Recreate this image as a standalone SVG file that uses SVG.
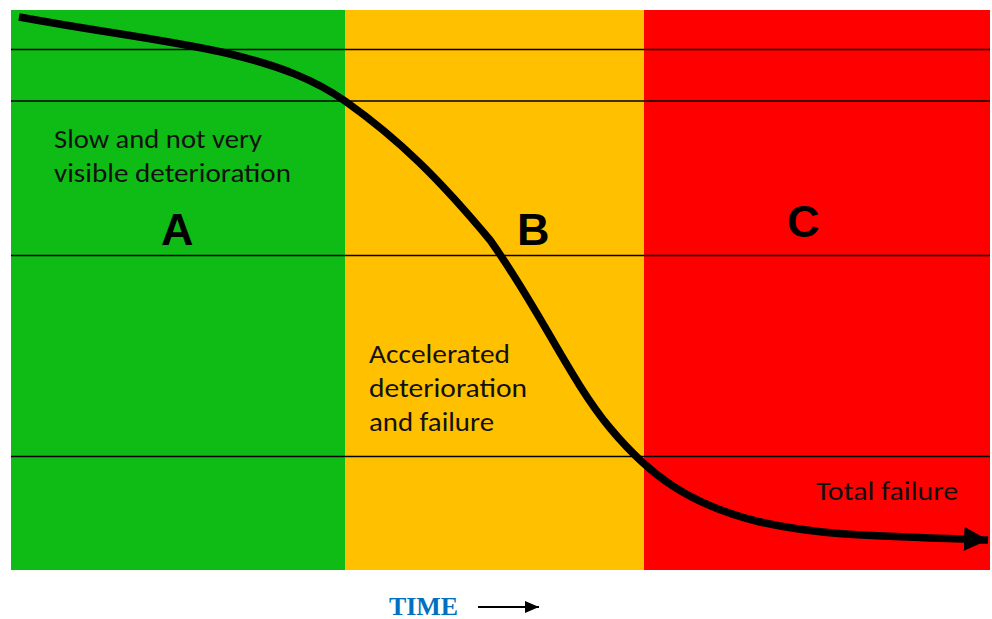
<svg xmlns="http://www.w3.org/2000/svg" width="992" height="619" viewBox="0 0 992 619">
<style>
.lbl{font-family:Carlito,"Liberation Sans","Open Sans",sans-serif;font-size:27px;fill:#111}
.big{font-family:"Liberation Sans",Arial,sans-serif;font-weight:bold;font-size:45px;fill:#000}
.hl{stroke:#000;stroke-width:1.5}
</style>
<defs>
<marker id="ah" markerUnits="userSpaceOnUse" markerWidth="26" markerHeight="26" refX="24" refY="12" orient="auto">
<path d="M0,0 L24,12 L0,24 z" fill="#000"/>
</marker>
<marker id="ah2" markerUnits="userSpaceOnUse" markerWidth="16" markerHeight="14" refX="14" refY="7" orient="auto">
<path d="M0,1 L14,7 L0,13 z" fill="#000"/>
</marker>
</defs>
<rect width="992" height="619" fill="#fff"/>
<g id="zones">
<rect id="zoneA" x="11" y="10" width="334" height="560" fill="#0FBC16"/>
<rect id="zoneB" x="345" y="10" width="299" height="560" fill="#FFC000"/>
<rect id="zoneC" x="644" y="10" width="346" height="560" fill="#FF0000"/>
</g>
<g id="gridlines">
<line class="hl" x1="11" y1="49.5" x2="990" y2="49.5"/>
<line class="hl" x1="11" y1="101" x2="990" y2="101"/>
<line class="hl" x1="11" y1="255.5" x2="990" y2="255.5"/>
<line class="hl" x1="11" y1="456.5" x2="990" y2="456.5"/>
</g>
<g id="connectors">
<path d="M19,17 C100,32 170,40 230,54 C280,66 315,80 345,101 C400,140 440,180 490,240 C540,310 570,380 610,428 C650,476 690,505 760,522 C830,538 900,536 988,540" fill="none" stroke="#000" stroke-width="7.5" marker-end="url(#ah)"/>
<line x1="478" y1="607" x2="539" y2="607" stroke="#000" stroke-width="2" marker-end="url(#ah2)"/>
</g>
<g id="labelA">
<text class="lbl" x="54" y="148" textLength="208" lengthAdjust="spacingAndGlyphs">Slow and not very</text>
<text class="lbl" x="54" y="182" textLength="237" lengthAdjust="spacingAndGlyphs">visible deterioration</text>
<text class="big" x="161" y="245">A</text>
</g>
<g id="labelB">
<text class="big" x="517" y="245">B</text>
<text class="lbl" x="369" y="363" textLength="141" lengthAdjust="spacingAndGlyphs">Accelerated</text>
<text class="lbl" x="369" y="397" textLength="158" lengthAdjust="spacingAndGlyphs">deterioration</text>
<text class="lbl" x="369" y="431" textLength="125" lengthAdjust="spacingAndGlyphs">and failure</text>
</g>
<g id="labelC">
<text class="big" x="787" y="237">C</text>
<text class="lbl" x="816" y="500" textLength="142" lengthAdjust="spacingAndGlyphs">Total failure</text>
</g>
<g id="time">
<text x="389" y="615" font-family="'Liberation Serif','Times New Roman',serif" font-weight="bold" font-size="25" textLength="69" lengthAdjust="spacingAndGlyphs" fill="#0070C0">TIME</text>
</g>
</svg>
